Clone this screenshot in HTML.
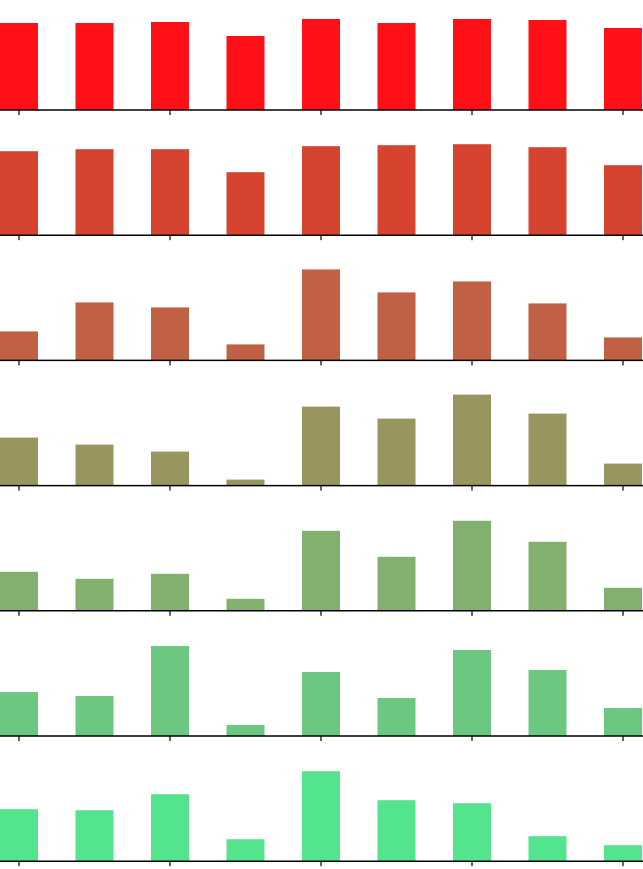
<!DOCTYPE html>
<html><head><meta charset="utf-8"><style>
html,body{margin:0;padding:0;background:#fff;width:643px;height:869px;overflow:hidden;font-family:"Liberation Sans",sans-serif}
</style></head><body>
<svg id="chart" width="643" height="869" xmlns="http://www.w3.org/2000/svg"></svg>
<script>
const categories = ["c1","c2","c3","c4","c5","c6","c7","c8","c9"];
const series1 = [87,87,88,74,91,87,91,90,82];
const series2 = [84,86,86,63,89,90,91,88,70];
const series3 = [29,58,53,16,91,68,79,57,23];
const series4 = [48,41,34,6,79,67,91,72,22];
const series5 = [39,32,37,12,80,54,90,69,23];
const series6 = [44,40,90,11,64,38,86,66,28];
const series7 = [52,51,67,22,90,61,58,25,16];
const seriesList = [series1,series2,series3,series4,series5,series6,series7];
const colors = ["#ff0f16","#d64430","#c06044","#98955e","#82b06e","#6cc880","#55e48e"];
const yMax = 100;

const svg = document.getElementById('chart');
const NS = "http://www.w3.org/2000/svg";
const baseFirst = 110, panelStep = 125.2, panelH = 100;
const xStart = 19, xStep = 75.5, barW = 38;
function xScale(i){ return xStart + i*xStep; }
function yScale(v){ return v/yMax*panelH; }

seriesList.forEach((s, p) => {
  const base = baseFirst + p*panelStep;
  const g = document.createElementNS(NS,'g');
  
  
  svg.appendChild(g);
  s.forEach((v, i) => {
    const r = document.createElementNS(NS,'rect');
    const h = yScale(v);
    r.setAttribute('x', xScale(i) - barW/2);
    r.setAttribute('y', base - h);
    r.setAttribute('width', barW);
    r.setAttribute('height', h);
    r.setAttribute('fill', colors[p]);
    
    
    g.appendChild(r);
  });
  const ax = document.createElementNS(NS,'line');
  ax.setAttribute('x1', 0); ax.setAttribute('x2', 643);
  ax.setAttribute('y1', base); ax.setAttribute('y2', base);
  ax.setAttribute('stroke', '#000'); ax.setAttribute('stroke-width', 1.5);
  
  
  g.appendChild(ax);
  for (let i = 0; i < categories.length; i += 2) {
    const t = document.createElementNS(NS,'line');
    t.setAttribute('x1', xScale(i)); t.setAttribute('x2', xScale(i));
    t.setAttribute('y1', base); t.setAttribute('y2', base + 5);
    t.setAttribute('stroke', '#000'); t.setAttribute('stroke-width', 1.2);
    
    
    g.appendChild(t);
  }
});
</script>
</body></html>
